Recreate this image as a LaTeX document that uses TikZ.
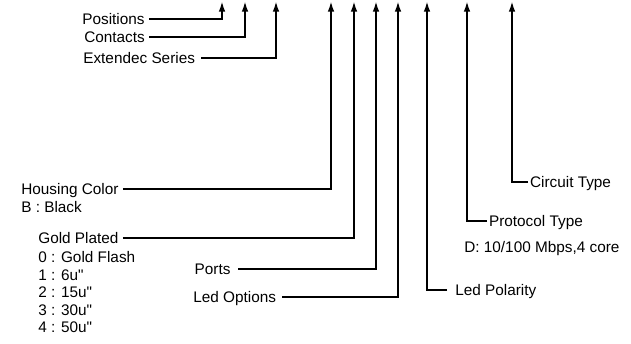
\documentclass[tikz,border=0pt]{standalone}
\usepackage{fontspec}
\setmainfont{Liberation Sans}
\usetikzlibrary{arrows.meta}

\begin{document}
\begin{tikzpicture}[x=0.75pt,y=-0.75pt,font=\fontsize{11.5}{13}\selectfont,line width=1.5pt]
% Two styles: label text and leader line
\tikzstyle{lbl}=[anchor=west,inner sep=2.5pt,text height=8.2pt,text depth=0pt];
\tikzstyle{lead}=[draw,-{Latex[length=8pt,width=5pt]}];
\useasboundingbox (0,0) rectangle (631,343);
% Arrow tips along the top
\coordinate (t1) at (222,1);
\coordinate (t2) at (245,1);
\coordinate (t3) at (276,1);
\coordinate (t4) at (331,1);
\coordinate (t5) at (354,1);
\coordinate (t6) at (376,1);
\coordinate (t7) at (398,1);
\coordinate (t8) at (427,1);
\coordinate (t9) at (467,1);
\coordinate (t10) at (512,1);
% Labels on the left
\node[lbl] (pos) at (78,19) {Positions};
\node[lbl] (cont) at (80,37) {Contacts};
\node[lbl,inner xsep=4pt] (ser) at (77,58) {Extendec Series};
\node[lbl] (hous) at (17,189) {Housing Color};
\node[lbl] (hous0) at (17,207) {B : Black};
\node[lbl] (gold) at (34,238) {Gold Plated};
\node[lbl] (gold0) at (34,257) {0 : Gold Flash};
\node[lbl] (gold1) at (34,275) {1 : 6u\textquotedbl};
\node[lbl] (gold2) at (34,292) {2 : 15u\textquotedbl};
\node[lbl] (gold3) at (34,310) {3 : 30u\textquotedbl};
\node[lbl] (gold4) at (34,327) {4 : 50u\textquotedbl};
\node[lbl,inner xsep=5pt] (port) at (187,269) {Ports};
\node[lbl,inner xsep=4pt] (ledo) at (187,297) {Led Options};
% Labels on the right
\node[lbl,inner xsep=5.5pt] (ledp) at (447,290) {Led Polarity};
\node[lbl,inner xsep=0.8pt] (prot) at (487,221) {Protocol Type};
\node[lbl] (prot0) at (460,247) {D: 10/100 Mbps,4 core};
\node[lbl,inner xsep=0.8pt] (circ) at (528,182) {Circuit Type};
% Leader lines
\draw[lead] (pos.east) -| (t1);
\draw[lead] (cont.east) -| (t2);
\draw[lead] (ser.east) -| (t3);
\draw[lead] (hous.east) -| (t4);
\draw[lead] (gold.east) -| (t5);
\draw[lead] (port.east) -| (t6);
\draw[lead] (ledo.east) -| (t7);
\draw[lead] (ledp.west) -| (t8);
\draw[lead] (prot.west) -| (t9);
\draw[lead] (circ.west) -| (t10);
\end{tikzpicture}
\end{document}
